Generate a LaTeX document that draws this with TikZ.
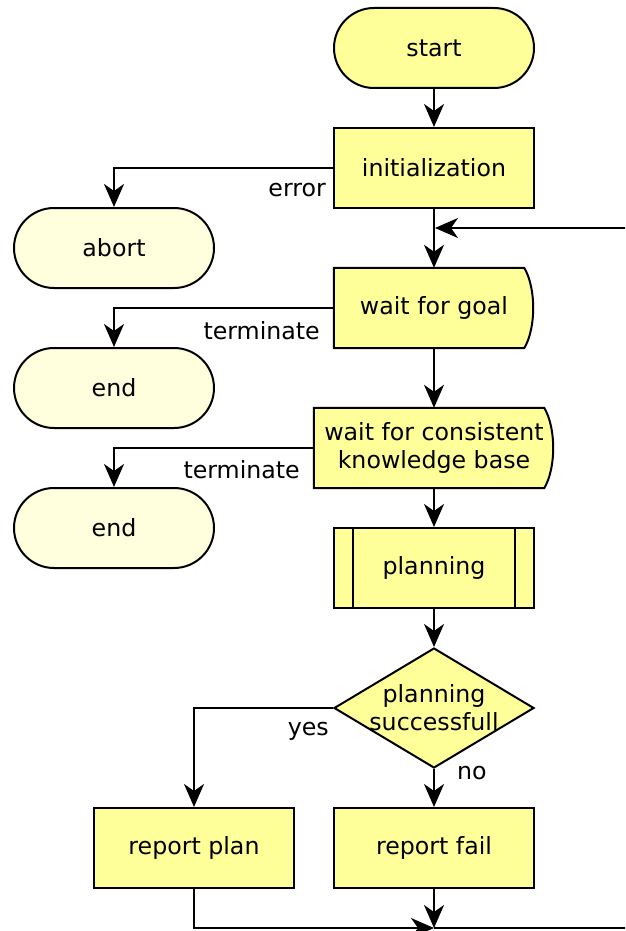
\documentclass[tikz,border=0pt]{standalone}
\usepackage{fontspec}
\setmainfont{DejaVu Sans}
\usetikzlibrary{arrows.meta,shapes.geometric,backgrounds}
\definecolor{boxfill}{HTML}{FFFF99}
\definecolor{endfill}{HTML}{FFFFDD}
\tikzset{
  every node/.style={font=\fontsize{23.7}{28}\selectfont},
  outline/.style={draw, line width=2pt},
  basebox/.style={outline, minimum height=80pt, minimum width=200pt, inner sep=0pt, align=center},
  terminal/.style={basebox, rounded corners=40pt, fill=boxfill},
  stopbox/.style={basebox, rounded corners=40pt, fill=endfill},
  process/.style={basebox, fill=boxfill},
  waitbox/.style={minimum height=80pt, minimum width=200pt, inner sep=0pt, align=center},
  decision/.style={outline, diamond, fill=boxfill, minimum width=200pt, minimum height=120pt, inner sep=0pt},
  line/.style={line width=2pt},
  flow/.style={line, -{Stealth[length=23pt,width=20pt,inset=7pt]}},
  edgelabel/.style={inner sep=0pt},
}
% wait shape: rectangle whose right side bulges outward
\newcommand{\waitoutline}[1]{%
  \filldraw[line, fill=boxfill] (#1.north west) -- ([xshift=-10pt]#1.north east)
    .. controls ([xshift=2pt,yshift=-20pt]#1.north east) and ([xshift=2pt,yshift=20pt]#1.south east)
    .. ([xshift=-10pt]#1.south east) -- (#1.south west) -- cycle;}
\begin{document}
\begin{tikzpicture}[x=1pt,y=-1pt]
\useasboundingbox (0,0) rectangle (625,931);
\clip (0,0) rectangle (625,931);

% main column
\node[terminal] (start) at (434,48) {start};
\node[process] (init) at (434,168) {initialization};
\node[waitbox] (wait) at (434,308) {wait for goal};
\node[waitbox, minimum width=240pt] (kb) at (434,448) {wait for consistent\\knowledge base};
\node[process] (plan) at (434,568) {planning};
\node[decision] (dec) at (434,708) {};
\node[align=center, inner sep=0pt] (dectext) at (dec) {planning\\successfull};
\node[process] (rfail) at (434,848) {report fail};
\node[process] (rplan) at (194,848) {report plan};

% side exits
\node[stopbox] (abort) at (114,248) {abort};
\node[stopbox] (end1) at (114,388) {end};
\node[stopbox] (end2) at (114,528) {end};

\begin{scope}[on background layer]
  \waitoutline{wait}
  \waitoutline{kb}
\end{scope}

% sub-process side bars
\draw[line] ([xshift=20pt]plan.north west) -- ([xshift=20pt]plan.south west);
\draw[line] ([xshift=-20pt]plan.north east) -- ([xshift=-20pt]plan.south east);

% loop join points
\coordinate (merge) at (434,928);
\coordinate (loopin) at (435,228);

% connectors
\draw[flow] (start) -- (init);
\draw[flow] (init.west) -| (abort.north);
\draw[flow] (init) -- (wait);
\draw[flow] (wait.west) -| (end1.north);
\draw[flow] (wait) -- (kb);
\draw[flow] (kb.west) -| (end2.north);
\draw[flow] (kb) -- (plan);
\draw[flow] (plan) -- (dec);
\draw[flow] (dec.west) -| (rplan.north);
\draw[flow] (dec) -- (rfail);
\draw[flow] (rfail) -- (merge);
\draw[flow] (rplan.south) |- (merge);
\draw[flow] (merge) -- ++(300,0) |- (loopin);

% connector labels
\node[edgelabel, anchor=base east] (lerr) at (326,196) {error};
\node[edgelabel, anchor=base east] (lterm1) at (320,339) {terminate};
\node[edgelabel, anchor=base east] (lterm2) at (300,478) {terminate};
\node[edgelabel, anchor=base east] (lyes) at (329,735) {yes};
\node[edgelabel, anchor=base west] (lno) at (457,779) {no};
\end{tikzpicture}
\end{document}
